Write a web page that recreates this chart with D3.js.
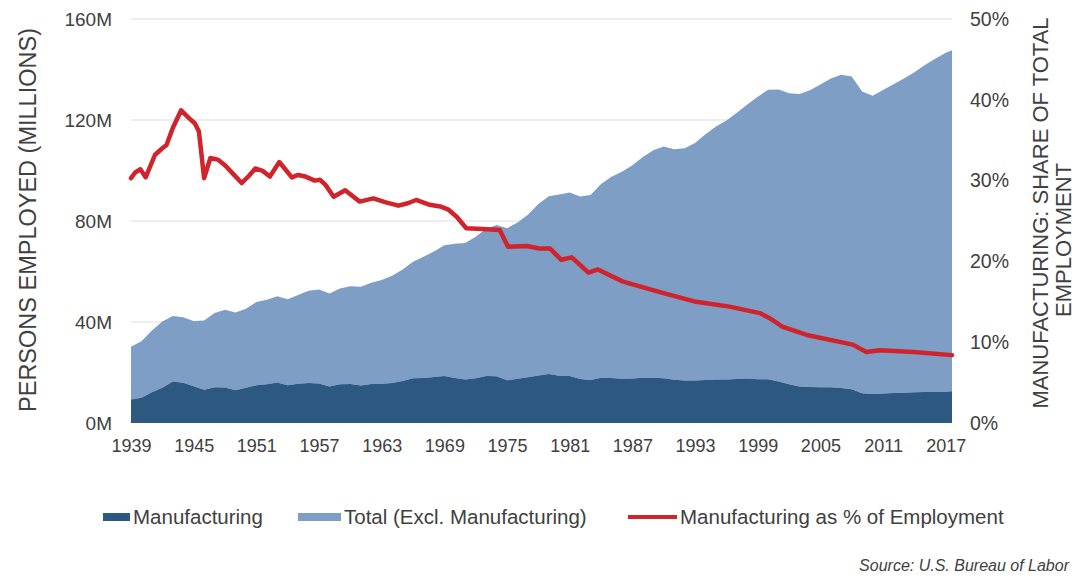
<!DOCTYPE html>
<html>
<head>
<meta charset="utf-8">
<script src="https://cdn.jsdelivr.net/npm/d3@7"></script>
<style>
  html, body { margin: 0; padding: 0; background: #ffffff; }
  svg { display: block; }
  text { font-family: Arial, "Liberation Sans", sans-serif; fill: #404040; }
</style>
</head>
<body>
<svg id="chart" width="1084" height="578"></svg>
<script>
// Annual U.S. employment, millions of persons
const years = [1939,1940,1941,1942,1943,1944,1945,1946,1947,1948,1949,1950,1951,1952,1953,1954,1955,1956,1957,1958,1959,
  1960,1961,1962,1963,1964,1965,1966,1967,1968,1969,1970,1971,1972,1973,1974,1975,1976,1977,1978,1979,
  1980,1981,1982,1983,1984,1985,1986,1987,1988,1989,1990,1991,1992,1993,1994,1995,1996,1997,1998,1999,
  2000,2001,2002,2003,2004,2005,2006,2007,2008,2009,2010,2011,2012,2013,2014,2015,2016,2017,2017.6];

const totalEmployment = [30.2,32.4,36.6,40.2,42.4,41.9,40.4,40.6,43.6,44.9,43.8,45.2,47.9,48.8,50.2,49.0,50.7,52.4,52.9,51.3,53.3,
  54.2,54.0,55.5,56.6,58.3,60.8,63.9,65.8,67.9,70.4,71.0,71.3,73.8,76.9,78.4,77.1,79.4,82.5,86.7,89.8,
  90.5,91.3,89.7,90.3,94.7,97.5,99.5,102.1,105.3,108.0,109.5,108.4,108.8,110.9,114.4,117.4,119.8,122.9,126.1,129.2,
  132.0,132.1,130.6,130.3,131.8,134.1,136.4,137.9,137.2,131.3,129.6,131.9,134.2,136.4,138.9,141.8,144.3,146.6,147.6];

const manufacturing = [9.3,10.0,12.2,14.0,16.4,15.9,14.6,13.2,14.2,14.1,13.0,14.0,15.0,15.3,16.0,15.0,15.5,15.8,15.6,14.5,15.3,
  15.4,14.9,15.4,15.5,15.8,16.6,17.7,17.8,18.2,18.6,17.8,17.2,17.7,18.6,18.5,16.9,17.5,18.1,18.8,19.4,
  18.7,18.6,17.4,17.0,17.9,17.8,17.5,17.6,17.9,17.9,17.7,17.1,16.8,16.8,17.0,17.2,17.2,17.4,17.6,17.3,
  17.3,16.4,15.3,14.5,14.3,14.2,14.2,13.9,13.4,11.8,11.5,11.7,11.9,12.0,12.2,12.3,12.4,12.4,12.6];

// Manufacturing as a share of total employment, %
const shareYears = [1939.0,1939.4,1939.9,1940.4,1941.3,1942.0,1942.4,1943.0,1943.8,1944.5,1945.1,1945.5,1946.0,1946.6,
  1947.3,1948.0,1948.8,1949.6,1950.3,1950.9,1951.6,1952.3,1953.2,1954.4,1955.0,1955.7,1956.6,1957.1,1957.6,
  1958.4,1959.5,1960.9,1962.2,1963.4,1964.6,1965.5,1966.3,1967.6,1968.6,1969.4,1970.2,1971.1,1972.7,1974.3,
  1975.1,1976.9,1978.1,1979.1,1980.2,1981.2,1982.8,1983.7,1986.1,1989.9,1993.1,1996.3,1999.2,2000.1,2001.4,
  2003.7,2008.1,2009.4,2010.7,2013.9,2017.6];
const shareValues = [30.3,31.0,31.4,30.4,33.2,34.0,34.4,36.5,38.7,37.8,37.1,36.1,30.3,32.8,
  32.6,31.9,30.8,29.7,30.6,31.5,31.2,30.5,32.3,30.4,30.7,30.5,30.0,30.1,29.5,
  28.0,28.8,27.4,27.8,27.3,26.9,27.2,27.6,27.0,26.8,26.4,25.5,24.1,24.0,23.9,
  21.8,21.9,21.6,21.6,20.2,20.5,18.6,19.0,17.5,16.1,15.0,14.4,13.6,13.0,11.9,
  10.9,9.7,8.8,9.0,8.8,8.4];

const yearTicks = [1939,1945,1951,1957,1963,1969,1975,1981,1987,1993,1999,2005,2011,2017];
const leftTicks = [0,40,80,120,160];
const rightTicks = [0,10,20,30,40,50];

const legendItems = ["Manufacturing", "Total (Excl. Manufacturing)", "Manufacturing as % of Employment"];

const colors = { manuf: "#2d5981", total: "#7e9ec6", share: "#d0232b", grid: "#dcdcdc" };

const plot = { left: 131, right: 952, top: 19, bottom: 423 };
const svg = d3.select("#chart");

const x = d3.scaleLinear().domain([1939, 2017.6]).range([plot.left, plot.right]);
const yL = d3.scaleLinear().domain([0, 160]).range([plot.bottom, plot.top]);
const yR = d3.scaleLinear().domain([0, 50]).range([plot.bottom, plot.top]);

// horizontal gridlines
svg.append("g").selectAll("line").data(leftTicks.filter(d => d > 0)).join("line")
  .attr("x1", plot.left).attr("x2", plot.right)
  .attr("y1", d => yL(d)).attr("y2", d => yL(d))
  .attr("stroke", colors.grid).attr("stroke-width", 1);

const rows = years.map((yr, i) => ({ yr, total: totalEmployment[i], manuf: manufacturing[i] }));

// non-manufacturing band sits on top of manufacturing
svg.append("path").datum(rows)
  .attr("fill", colors.total)
  .attr("d", d3.area().x(d => x(d.yr)).y0(d => yL(d.manuf)).y1(d => yL(d.total)));

svg.append("path").datum(rows)
  .attr("fill", colors.manuf)
  .attr("d", d3.area().x(d => x(d.yr)).y0(yL(0)).y1(d => yL(d.manuf)));

// share line on the right axis
const shareRows = shareYears.map((yr, i) => ({ yr, v: shareValues[i] }));
svg.append("path").datum(shareRows)
  .attr("fill", "none").attr("stroke", colors.share).attr("stroke-width", 4.5)
  .attr("stroke-linejoin", "round").attr("stroke-linecap", "round")
  .attr("d", d3.line().x(d => x(d.yr)).y(d => yR(d.v)));

// axes
const leftAxis = svg.append("g").attr("transform", `translate(${plot.left - 19},0)`)
  .call(d3.axisLeft(yL).tickValues(leftTicks).tickSize(0).tickPadding(0).tickFormat(d => d + "M"));
const rightAxis = svg.append("g").attr("transform", `translate(${plot.right + 18},0)`)
  .call(d3.axisRight(yR).tickValues(rightTicks).tickSize(0).tickPadding(0).tickFormat(d => d + "%"));
const bottomAxis = svg.append("g").attr("transform", `translate(0,${plot.bottom + 13})`)
  .call(d3.axisBottom(x).tickValues(yearTicks).tickSize(0).tickPadding(0).tickFormat(d3.format("d")));

[leftAxis, rightAxis, bottomAxis].forEach(g => {
  g.select(".domain").remove();
  g.selectAll("text").attr("font-family", "Arial, 'Liberation Sans', sans-serif").attr("fill", "#404040");
});
leftAxis.selectAll("text").attr("font-size", 19);
rightAxis.selectAll("text").attr("font-size", 19.5);
bottomAxis.selectAll("text").attr("font-size", 18).attr("dy", "0.9em");

// axis titles
svg.append("text")
  .attr("transform", "translate(36,220) rotate(-90)")
  .attr("text-anchor", "middle").attr("font-size", 23.5)
  .text("PERSONS EMPLOYED (MILLIONS)");

svg.append("text")
  .attr("transform", "translate(1048,213) rotate(-90)")
  .attr("text-anchor", "middle").attr("font-size", 22)
  .text("MANUFACTURING: SHARE OF TOTAL");
svg.append("text")
  .attr("transform", "translate(1071,240) rotate(-90)")
  .attr("text-anchor", "middle").attr("font-size", 22)
  .text("EMPLOYMENT");

// legend
const legend = svg.append("g").attr("transform", "translate(0,517)");
const lg = [
  { x: 103, w: 27, type: "rect", color: colors.manuf, label: legendItems[0] },
  { x: 298, w: 43, type: "rect", color: colors.total, label: legendItems[1] },
  { x: 628, w: 49, type: "line", color: colors.share, label: legendItems[2] }
];
lg.forEach(item => {
  if (item.type === "rect") {
    legend.append("rect").attr("x", item.x).attr("y", -4).attr("width", item.w).attr("height", 8).attr("fill", item.color);
  } else {
    legend.append("line").attr("x1", item.x).attr("x2", item.x + item.w).attr("y1", 0).attr("y2", 0)
      .attr("stroke", item.color).attr("stroke-width", 4);
  }
  legend.append("text").attr("x", item.x + item.w + 3).attr("y", 0).attr("dy", "0.35em")
    .attr("font-size", 20.5).text(item.label);
});

svg.append("text")
  .attr("x", 1069).attr("y", 571).attr("text-anchor", "end")
  .attr("font-size", 16).attr("font-style", "italic")
  .text("Source: U.S. Bureau of Labor");
</script>
</body>
</html>
